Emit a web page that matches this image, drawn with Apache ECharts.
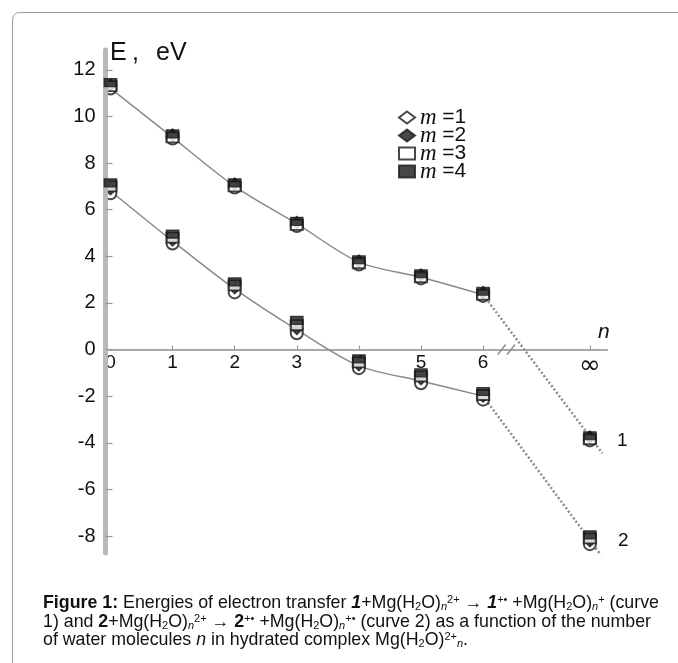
<!DOCTYPE html>
<html><head><meta charset="utf-8">
<script src="https://cdn.jsdelivr.net/npm/echarts@6/dist/echarts.min.js"></script>
<style>html,body{margin:0;padding:0;background:#fff}#c{width:678px;height:663px}</style>
</head><body><div id="c"></div>
<script>
// ---- data ----
const nLabels = ['0', '1', '2', '3', '4', '5', '6', '∞'];
const INF_POS = 7.72;                       // axis position used for n = ∞
const nPos = [0, 1, 2, 3, 4, 5, 6, INF_POS];
const yTicks = [-8, -6, -4, -2, 0, 2, 4, 6, 8, 10, 12];
const xTicks = [0, 1, 2, 3, 4, 5, 6, INF_POS];

// curve 1 (upper), one array per m
const c1_m1 = [11.2, 9.05, 6.95, 5.3, 3.65, 3.05, 2.3, -3.9];
const c1_m2 = [11.35, 9.2, 7.1, 5.45, 3.8, 3.2, 2.45, -3.75];
const c1_m3 = [11.3, 9.1, 7.0, 5.35, 3.7, 3.1, 2.35, -3.85];
const c1_m4 = [11.45, 9.25, 7.15, 5.5, 3.85, 3.25, 2.5, -3.7];
// curve 2 (lower)
const c2_m1 = [6.7, 4.55, 2.45, 0.7, -0.8, -1.45, -2.15, -8.35];
const c2_m2 = [6.9, 4.7, 2.65, 0.9, -0.65, -1.25, -2.0, -8.2];
const c2_m3 = [7.0, 4.8, 2.75, 1.05, -0.55, -1.15, -1.95, -8.1];
const c2_m4 = [7.15, 4.95, 2.9, 1.25, -0.4, -1.0, -1.8, -7.95];
// fitted curves (n = 0..6)
const c1Fit = [11.2, 9.1, 7.0, 5.4, 3.75, 3.1, 2.35];
const c2Fit = [6.8, 4.65, 2.6, 0.85, -0.7, -1.35, -2.0];
// dotted extrapolation to n = ∞ [n-position, E]
const c1Tail = [[6, 2.35], [7.92, -4.45]];
const c2Tail = [[6, -2.0], [7.92, -8.9]];

const legendNames = ['m =1', 'm =2', 'm =3', 'm =4'];

// ---- chart ----
const Y_MIN = -8.73, Y_MAX = 12.85, GRID_TOP = 50, GRID_H = 503;
const chart = echarts.init(document.getElementById('c'));
const pts = (arr) => arr.map((v, i) => [nPos[i], v]);
const both = (a, b) => pts(a).concat(pts(b));
const INK = '#1a1a1a';
// move the x axis up so it crosses y = 0 (labels included)
const xOffset = -(GRID_H * (0 - Y_MIN) / (Y_MAX - Y_MIN));

function markerSeries(name, symbol, size, a, b, z) {
  return {
    name, type: 'scatter', data: both(a, b), symbol, symbolSize: size, z,
    itemStyle: { color: INK, borderColor: INK, borderWidth: 1.4 }, silent: true
  };
}

chart.setOption({
  backgroundColor: '#fff',
  animation: false,
  grid: { left: 105.5, top: GRID_TOP, width: 501.8, height: GRID_H, outerBoundsMode: 'none', containLabel: false },
  xAxis: {
    type: 'value', min: -0.08, max: 8.0, position: 'bottom', offset: xOffset,
    axisLine: { onZero: false, lineStyle: { color: '#8c8c8c', width: 1.5 } },
    axisTick: { show: true, inside: true, length: 4, customValues: xTicks.slice(1), lineStyle: { color: '#999', width: 1.2 } },
    axisLabel: {
      customValues: xTicks, margin: 4, color: '#111', fontSize: 19, fontFamily: 'Liberation Sans',
      formatter: (v) => { const i = xTicks.findIndex(t => Math.abs(t - v) < 1e-6); const s = i >= 0 ? nLabels[i] : ''; return s === '∞' ? '{inf|∞}' : s; },
      rich: { inf: { fontSize: 26, fontFamily: 'DejaVu Sans', color: '#111' } }
    },
    splitLine: { show: false }
  },
  yAxis: {
    type: 'value', min: Y_MIN, max: Y_MAX, z: 5,
    axisLine: { show: true, onZero: false, lineStyle: { color: '#b8b8b8', width: 5 } },
    axisTick: { show: true, inside: true, length: 7, customValues: yTicks, lineStyle: { color: '#999', width: 1.2 } },
    axisLabel: { customValues: yTicks, margin: 10, color: '#111', fontSize: 20, fontFamily: 'Liberation Sans' },
    splitLine: { show: false }
  },
  legend: {
    orient: 'vertical', left: 393, top: 101, itemWidth: 16, itemHeight: 12, itemGap: -5,
    selectedMode: false, icon: 'rect',
    data: [
      { name: legendNames[0], icon: 'emptyDiamond' },
      { name: legendNames[1], icon: 'diamond' },
      { name: legendNames[2], icon: 'emptyRect' },
      { name: legendNames[3], icon: 'rect' }
    ],
    formatter: (name) => '{i|m} {t|' + name.slice(2) + '}',
    textStyle: {
      color: '#111', fontSize: 20, lineHeight: 16,
      rich: {
        i: { fontFamily: 'Liberation Serif', fontStyle: 'italic', fontSize: 23, lineHeight: 16, color: '#111' },
        t: { fontFamily: 'Liberation Sans', fontSize: 21, lineHeight: 16, color: '#111' }
      }
    }
  },
  series: [
    { type: 'line', data: pts(c1Fit), smooth: 0.3, symbol: 'none', silent: true, z: 1, lineStyle: { color: '#8a8a8a', width: 1.5 } },
    { type: 'line', data: pts(c2Fit), smooth: 0.3, symbol: 'none', silent: true, z: 1, lineStyle: { color: '#8a8a8a', width: 1.5 } },
    { type: 'line', data: c1Tail, symbol: 'none', silent: true, z: 1, lineStyle: { color: '#8c8c8c', width: 2.5, type: [2, 2.2] } },
    { type: 'line', data: c2Tail, symbol: 'none', silent: true, z: 1, lineStyle: { color: '#8c8c8c', width: 2.5, type: [2, 2.2] } },
    markerSeries(legendNames[0], 'emptyCircle', 12, c1_m1, c2_m1, 2),
    markerSeries(legendNames[1], 'diamond', 12, c1_m2, c2_m2, 3),
    markerSeries(legendNames[2], 'emptyRect', [12, 10], c1_m3, c2_m3, 4),
    markerSeries(legendNames[3], 'rect', [12, 8], c1_m4, c2_m4, 5)
  ]
});

// ---- decorations & caption ----
const brk = [6.3, 6.45].map(v => chart.convertToPixel({ gridIndex: 0 }, [v, 0]));
const CF = 17.8;
const capRich = {
  b: { fontWeight: 'bold', fontSize: CF, lineHeight: 18 },
  bi: { fontWeight: 'bold', fontStyle: 'italic', fontSize: CF, lineHeight: 18 },
  i: { fontStyle: 'italic', fontSize: CF, lineHeight: 18 },
  sub: { fontSize: 11, lineHeight: 8, verticalAlign: 'bottom' },
  subi: { fontSize: 11, fontStyle: 'italic', lineHeight: 8, verticalAlign: 'bottom' },
  sup: { fontSize: 11, lineHeight: 10, verticalAlign: 'top' }
};
const capLines = [
  '{b|Figure 1:} Energies of electron transfer {bi|1}+Mg(H{sub|2}O){subi|n}{sup|2+} → {bi|1}{sup|+•} +Mg(H{sub|2}O){subi|n}{sup|+} (curve',
  '1) and {b|2}+Mg(H{sub|2}O){subi|n}{sup|2+} → {b|2}{sup|+•} +Mg(H{sub|2}O){subi|n}{sup|+•} (curve 2) as a function of the number',
  'of water molecules {i|n} in hydrated complex Mg(H{sub|2}O){sup|2+}{subi|n}.'
];
const capY = [603.5, 622, 640.5];
const txt = (x, y, text, size, extra) => ({
  type: 'text', x, y, silent: true,
  style: Object.assign({ text, fill: '#111', fontSize: size, fontFamily: 'Liberation Sans', verticalAlign: 'middle', align: 'left' }, extra || {})
});

chart.setOption({
  graphic: [
    { type: 'rect', silent: true, shape: { x: 12.5, y: 12.5, width: 800, height: 800, r: 7 }, style: { fill: 'none', stroke: '#9a9a9a', lineWidth: 1 } },
    txt(110, 53, 'E', 25),
    txt(132, 53, ',', 25),
    txt(156, 53, 'eV', 25),
    txt(598, 332, 'n', 21, { fontStyle: 'italic' }),
    txt(617, 441, '1', 19),
    txt(618, 541, '2', 19),
    ...brk.map(p => ({ type: 'line', silent: true, shape: { x1: p[0] - 4, y1: p[1] + 5, x2: p[0] + 4, y2: p[1] - 5 }, style: { stroke: '#8c8c8c', lineWidth: 1.5 } })),
    ...capLines.map((t, k) => ({
      type: 'text', x: 43, y: capY[k], silent: true,
      style: { text: t, fill: '#111', fontSize: CF, lineHeight: 18, fontFamily: 'Liberation Sans', verticalAlign: 'middle', align: 'left', rich: capRich }
    }))
  ]
});
</script></body></html>
